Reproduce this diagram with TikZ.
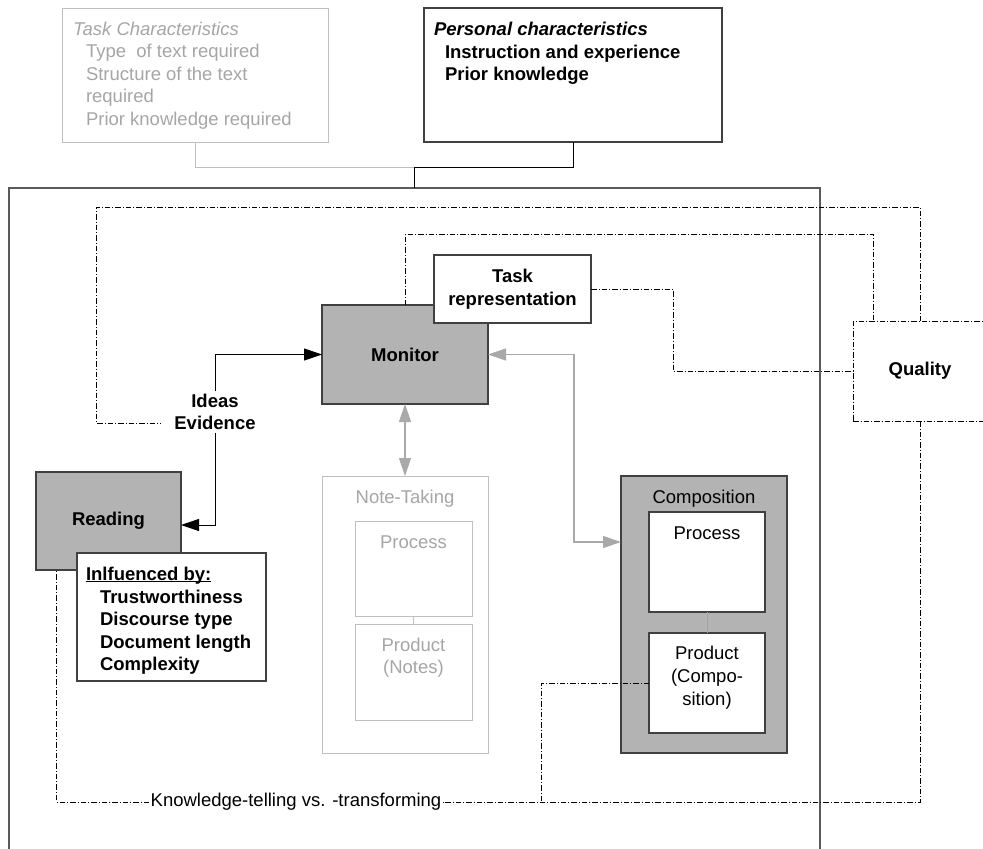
\documentclass[tikz,border=0pt]{standalone}
\usepackage{fontspec}
\setmainfont{Liberation Sans}
\usetikzlibrary{arrows.meta,calc}

\definecolor{panelgray}{HTML}{B3B3B3}
\definecolor{edgedark}{HTML}{404040}
\definecolor{framegray}{HTML}{5A5A5A}
\definecolor{softline}{HTML}{C0C0C0}
\definecolor{softtext}{HTML}{A6A6A6}
\definecolor{arrowgray}{HTML}{A9A9A9}
\definecolor{linkblue}{HTML}{8AA2CC}

% underline that sits just below the baseline
\newcommand\ulined[1]{\setbox0\hbox{#1}\rlap{\rule[-2.3pt]{\wd0}{1.3pt}}\box0}

\tikzset{
  basefont/.style={font=\fontsize{18.5pt}{22.5pt}\selectfont},
  txt/.style={basefont, inner sep=0pt, outer sep=0pt, anchor=base},
  ltxt/.style={txt, anchor=base west},
  box/.style={basefont, draw=edgedark, line width=1.2pt, fill=white, inner sep=0pt,
              outer sep=0pt, anchor=north west, align=center},
  graybox/.style={box, fill=panelgray},
  softbox/.style={basefont, draw=softline, line width=1pt, fill=white, inner sep=0pt,
              outer sep=0pt, anchor=north west},
  dashdot/.style={line width=0.8pt, dash pattern=on 5.5pt off 2pt on 1pt off 2pt},
  tag/.style={basefont, fill=white, inner xsep=13pt, inner ysep=3pt, outer sep=0pt},
  grayarrow/.style={draw=arrowgray, line width=1.2pt,
     {Triangle[length=18pt,width=12pt,fill=arrowgray]}-{Triangle[length=18pt,width=12pt,fill=arrowgray]}},
  blackarrow/.style={line width=1pt, -{Triangle[length=18pt,width=12pt]}},
}

\begin{document}
\begin{tikzpicture}[x=1pt,y=-1pt]
\useasboundingbox (0,0) rectangle (983,849);
\fill[white] (0,0) rectangle (983,849);
\clip (0,0) rectangle (983,849);

% outer frame (its lower edge lies below the page)
\node[draw=framegray, line width=1.5pt, inner sep=0pt, outer sep=0pt, anchor=north west,
      minimum width=811pt, minimum height=700pt] (frame) at (9,188) {};

% characteristics boxes
\node[softbox, minimum width=266pt, minimum height=134pt] (task) at (62,8) {};
\node[box, minimum width=298pt, minimum height=134pt] (personal) at (424,8) {};

\begin{scope}[every node/.style={ltxt, text=softtext}]
  \node (tc0) at (73,35) {\itshape Task Characteristics};
  \node (tc1) at (86,57.5) {Type\ \ of text required};
  \node (tc2) at (86,80) {Structure of the text};
  \node (tc3) at (86,102.5) {required};
  \node (tc4) at (86,125) {Prior knowledge required};
\end{scope}
\node[ltxt] (pc0) at (434,35.5) {\bfseries\itshape Personal characteristics};
\node[ltxt] (pc1) at (445,58) {\bfseries Instruction and experience};
\node[ltxt] (pc2) at (445,80.5) {\bfseries Prior knowledge};

% process boxes
\node[graybox, minimum width=166pt, minimum height=99pt] (monitor) at (322,305) {\bfseries Monitor};
\node[box, minimum width=157pt, minimum height=68pt] (taskrep) at (434,255) {\bfseries Task\\\bfseries representation};
\node[basefont, draw, dashdot, inner sep=0pt, outer sep=0pt, anchor=north west,
      minimum width=134pt, minimum height=100pt] (quality) at (853,321) {\bfseries Quality};
\node[graybox, minimum width=145pt, minimum height=98pt] (reading) at (36,472) {\bfseries Reading};
\node[box, minimum width=189pt, minimum height=128pt] (influence) at (77,553) {};

\node[ltxt] (if0) at (86,580) {\bfseries\ulined{Inlfuenced by:}};
\node[ltxt] (if1) at (100,603) {\bfseries Trustworthiness};
\node[ltxt] (if2) at (100,625.5) {\bfseries Discourse type};
\node[ltxt] (if3) at (100,648) {\bfseries Document length};
\node[ltxt] (if4) at (100,670.5) {\bfseries Complexity};

% note-taking
\node[softbox, minimum width=166pt, minimum height=277pt] (notes) at (322,476) {};
\node[softbox, minimum width=117pt, minimum height=95pt] (nproc) at (355,521) {};
\node[softbox, minimum width=117pt, minimum height=96pt] (nprod) at (355,624) {};
\begin{scope}[every node/.style={txt, text=softtext}]
  \node (ntl) at ([yshift=-27pt]notes.north) {Note-Taking};
  \node (npl) at ([yshift=-27pt]nproc.north) {Process};
  \node (nql1) at ([yshift=-27pt]nprod.north) {Product};
  \node (nql2) at ([yshift=-49.5pt]nprod.north) {(Notes)};
\end{scope}

% composition
\node[graybox, minimum width=166pt, minimum height=277pt] (comp) at (621,476) {};
\node[box, minimum width=116pt, minimum height=100pt] (cproc) at (649,512) {};
\node[box, minimum width=116pt, minimum height=100pt] (cprod) at (649,633) {};
\node[txt] (cl) at ([yshift=-27pt]comp.north) {Composition};
\node[txt] (cpl) at ([yshift=-27.5pt]cproc.north) {Process};
\node[txt] (cql1) at ([yshift=-26.6pt]cprod.north) {Product};
\node[txt] (cql2) at ([yshift=-49.3pt]cprod.north) {(Compo-};
\node[txt] (cql3) at ([yshift=-72pt]cprod.north) {sition)};

% labels sitting on connectors
\node[tag] (ideas) at (215,401) {\bfseries Ideas};
\node[tag] (evid) at (215,423) {\bfseries Evidence};
\node[basefont, fill=white, inner xsep=1.5pt, inner ysep=1pt, outer sep=0pt] (kt) at (296,802)
  {Knowledge-telling vs. -transforming};

% links from the characteristics boxes into the frame
\coordinate (join) at (414,167);
\draw[softline, line width=1pt] (task.south) |- (join);
\draw[line width=1pt] (personal.south) |- (join) -- (join |- frame.north);

% inner links
\draw[softline, line width=1pt] (nproc.south) -- (nprod.north);
\draw[linkblue, line width=0.8pt] (cproc.south) -- (cprod.north);

% information flow
\draw[blackarrow] (ideas.north) |- (monitor.west);
\draw[blackarrow] (evid.south) |- ([yshift=-4pt]reading.east);
\draw[grayarrow] (monitor.south) -- (notes.north);
\coordinate (compin) at ([yshift=72.5pt]comp.west);
\draw[grayarrow] (monitor.east) -- ++(86,0) |- (compin);

% quality loops
\draw[dashdot] (quality.north) |- (96,207) |- (evid.west);
\draw[dashdot] (monitor.north) -- ++(0,-71) -| ([xshift=-47pt]quality.north);
\draw[dashdot] (taskrep.east) -- ++(82,0) |- (quality.west);
\draw[dashdot] (quality.south) |- (kt.east);
\draw[dashdot] (kt.west) -| ([xshift=-52pt]reading.south);
\coordinate (tap) at ($(cprod.west)+(-108,0)$);
\draw[dashdot] (cprod.west) -- (tap) -- (tap |- kt.east);
\end{tikzpicture}
\end{document}
